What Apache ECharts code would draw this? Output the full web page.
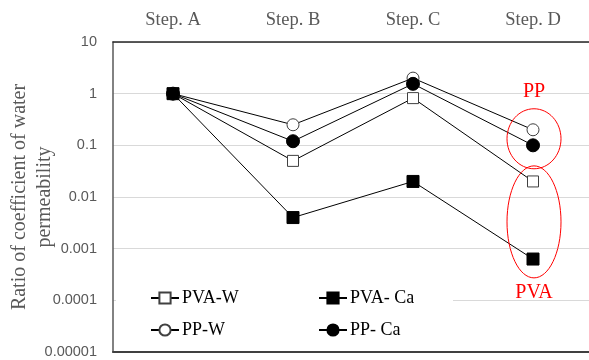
<!DOCTYPE html>
<html>
<head>
<meta charset="utf-8">
<script src="https://cdn.jsdelivr.net/npm/echarts@6/dist/echarts.min.js"></script>
<style>
  html, body { margin: 0; padding: 0; background: #ffffff; }
  #chart { width: 589px; height: 360px; }
</style>
</head>
<body>
<div id="chart"></div>
<script>
// Treatment steps along the top axis
const steps = ['Step. A', 'Step. B', 'Step. C', 'Step. D'];

// Ratio of coefficient of water permeability per fibre / curing condition
const pvaW  = [1, 0.05, 0.82, 0.02];
const pvaCa = [1, 0.004, 0.02, 0.00063];
const ppW   = [1, 0.25, 2.0, 0.2];
const ppCa  = [1, 0.12, 1.55, 0.1];

// Log-scale tick labels, lowest to highest decade
const yTickLabels = ['0.00001', '0.0001', '0.001', '0.01', '0.1', '1', '10'];

const serif = '"Liberation Serif", "Times New Roman", serif';
const sans = '"Liberation Sans", Arial, sans-serif';

const chart = echarts.init(document.getElementById('chart'), null, { renderer: 'canvas' });

function lineSeries(name, values, symbol, filled, size) {
  return {
    name: name,
    type: 'line',
    data: values,
    symbol: symbol,
    symbolSize: size,
    showAllSymbol: true,
    lineStyle: { color: '#000000', width: 1 },
    itemStyle: {
      color: filled ? '#000000' : '#ffffff',
      borderColor: filled ? '#000000' : '#404040',
      borderWidth: 1
    },
    emphasis: { disabled: true },
    z: 3
  };
}

const option = {
  animation: false,
  backgroundColor: '#ffffff',
  grid: { left: 113, top: 42, width: 480, height: 310, containLabel: false, outerBoundsMode: 'none' },
  xAxis: [
    {
      type: 'category',
      data: steps,
      position: 'top',
      boundaryGap: true,
      axisLine: { show: true, lineStyle: { color: '#262626', width: 1.5 } },
      axisTick: { show: false },
      axisLabel: { color: '#595959', fontFamily: serif, fontSize: 18.5, margin: 12 },
      splitLine: { show: false }
    },
    {
      type: 'category',
      data: steps,
      position: 'bottom',
      axisLine: { show: true, lineStyle: { color: '#404040', width: 2 } },
      axisTick: { show: false },
      axisLabel: { show: false },
      splitLine: { show: false }
    }
  ],
  yAxis: {
    type: 'log',
    logBase: 10,
    min: 0.00001,
    max: 10,
    axisLine: { show: true, lineStyle: { color: '#595959', width: 1.5 } },
    axisTick: { show: false },
    axisLabel: {
      color: '#595959',
      fontFamily: sans,
      fontSize: 14.5,
      margin: 16,
      formatter: function (v) {
        const idx = Math.round(Math.log10(v)) + 5;
        return yTickLabels[idx] !== undefined ? yTickLabels[idx] : '';
      }
    },
    splitLine: { show: true, lineStyle: { color: '#d9d9d9', width: 1 } },
    name: 'Ratio of coefficient of water\npermeability',
    nameLocation: 'middle',
    nameRotate: 90,
    nameGap: 56,
    nameMoveOverlap: false,
    nameTextStyle: { color: '#595959', fontFamily: serif, fontSize: 20, lineHeight: 25 }
  },
  legend: [
    {
      data: ['PVA-W', 'PP-W'],
      orient: 'vertical',
      left: 150,
      top: 288,
      itemWidth: 28,
      itemHeight: 14,
      itemGap: 12,
      padding: 0,
      selectedMode: false,
      textStyle: { color: '#000000', fontFamily: serif, fontSize: 18, lineHeight: 20, padding: [0, 0, 0, -2] }
    },
    {
      data: ['PVA- Ca', 'PP- Ca'],
      orient: 'vertical',
      left: 318,
      top: 288,
      itemWidth: 28,
      itemHeight: 14,
      itemGap: 12,
      padding: 0,
      selectedMode: false,
      textStyle: { color: '#000000', fontFamily: serif, fontSize: 18, lineHeight: 20, padding: [0, 0, 0, -2] }
    }
  ],
  series: [
    lineSeries('PVA-W', pvaW, 'rect', false, 11),
    lineSeries('PVA- Ca', pvaCa, 'rect', true, 12),
    lineSeries('PP-W', ppW, 'circle', false, 12),
    lineSeries('PP- Ca', ppCa, 'circle', true, 13)
  ]
};

chart.setOption(option);

// Red call-outs grouping the PP and PVA results at the final step
const callouts = [
  { text: 'PP',  labelValue: 1.1,     centerValue: 0.134,  rx: 27, ry: 30 },
  { text: 'PVA', labelValue: 0.00014, centerValue: 0.0033, rx: 27, ry: 56 }
];

function drawCallouts() {
  const elements = [
    // white panel behind the legend
    { type: 'rect', left: 116, top: 283, shape: { width: 337, height: 63 },
      style: { fill: '#ffffff' }, z: 1, silent: true }
  ];
  callouts.forEach(function (c) {
    const center = chart.convertToPixel({ xAxisIndex: 0, yAxisIndex: 0 }, [steps[3], c.centerValue]);
    const lbl = chart.convertToPixel({ xAxisIndex: 0, yAxisIndex: 0 }, [steps[3], c.labelValue]);
    elements.push({
      type: 'ellipse',
      shape: { cx: center[0] + 1, cy: center[1], rx: c.rx, ry: c.ry },
      style: { fill: 'none', stroke: '#ff0000', lineWidth: 1 },
      z: 10,
      silent: true
    });
    elements.push({
      type: 'text',
      x: lbl[0] + 1,
      y: lbl[1],
      style: {
        text: c.text,
        fill: '#ff0000',
        font: '20px ' + serif,
        textAlign: 'center',
        textVerticalAlign: 'middle'
      },
      z: 10,
      silent: true
    });
  });
  chart.setOption({ graphic: elements });
}

drawCallouts();
</script>
</body>
</html>
